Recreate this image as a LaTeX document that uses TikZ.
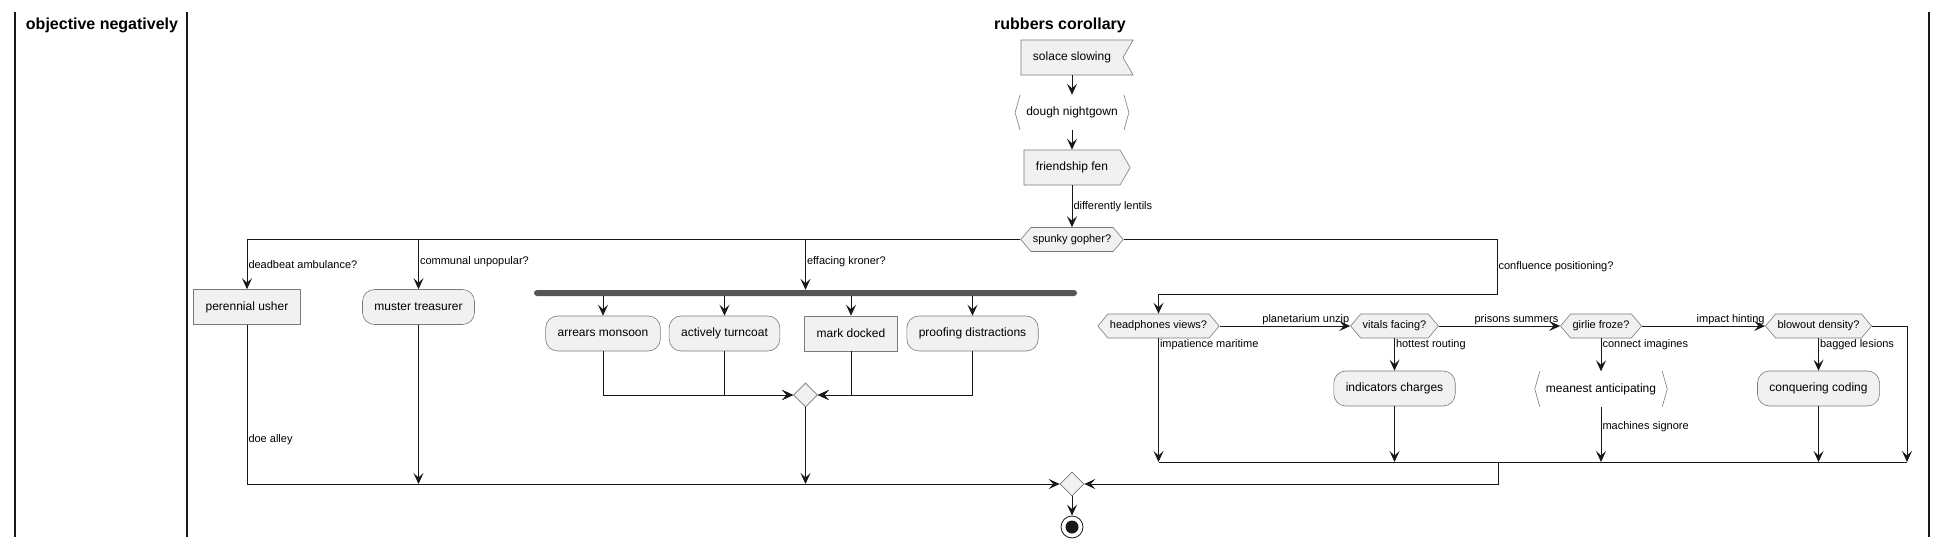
\documentclass[tikz,border=0pt]{standalone}
\usepackage{fontspec}
\setmainfont{Liberation Sans}
\usetikzlibrary{arrows.meta,shapes.geometric,shapes.symbols}
\definecolor{ink}{HTML}{181818}
\definecolor{boxfill}{HTML}{F1F1F1}
\definecolor{barfill}{HTML}{555555}
\definecolor{rim}{HTML}{7A7A7A}

\begin{document}
\begin{tikzpicture}[x=1pt,y=-1pt,
		flow/.style={draw=ink,line width=1pt,-{Stealth[length=11pt,width=10pt,inset=4.5pt]}},
		wire/.style={draw=ink,line width=1pt},
		lane/.style={draw=ink,line width=1.5pt},
		title/.style={font=\bfseries\fontsize{16}{19}\selectfont},
		lab/.style={font=\fontsize{11}{13}\selectfont,inner sep=1pt},
		act/.style={draw=rim,fill=boxfill,line width=0.6pt,rounded corners=12pt,minimum height=35pt,inner xsep=12pt,font=\fontsize{12}{14}\selectfont},
		rect/.style={act,rounded corners=0pt},
		ghost/.style={minimum height=35pt,inner xsep=6pt,font=\fontsize{12}{14}\selectfont},
		ask/.style={signal,signal to=west and east,signal pointer angle=100,draw=rim,fill=boxfill,line width=0.6pt,minimum height=24pt,inner xsep=2pt,inner ysep=0pt,font=\fontsize{11}{13}\selectfont},
		flag/.style={signal,signal to=nowhere,signal from=east,signal pointer angle=120,draw=rim,fill=boxfill,line width=0.6pt,minimum height=35pt,inner xsep=12pt,font=\fontsize{12}{14}\selectfont},
		sendbox/.style={signal,signal to=east,signal pointer angle=120,draw=rim,fill=boxfill,line width=0.6pt,minimum height=35pt,inner xsep=12pt,font=\fontsize{12}{14}\selectfont},
		meet/.style={diamond,draw=rim,fill=boxfill,line width=0.6pt,minimum width=24pt,minimum height=24pt,inner sep=0pt},
		bar/.style={fill=barfill,rounded corners=3pt,minimum width=543pt,minimum height=6pt,inner sep=0pt},
		stopnode/.style={circle,draw=ink,fill=white,line width=0.8pt,minimum size=22pt,inner sep=0pt}]
	\useasboundingbox (0,0) rectangle (1946,549);
	\draw[lane] (15,12) -- (15,537);
	\draw[lane] (187,12) -- (187,537);
	\draw[lane] (1929,12) -- (1929,537);
	\node[title] (lanea) at (102,25) {objective negatively};
	\node[title] (laneb) at (1060,25) {rubbers corollary};

	\node[flag] (solace) at (1072,57.5) {solace slowing};
	\node[ghost] (dough) at (1072,112.5) {dough nightgown};
	\node[sendbox] (fen) at (1072,167.5) {friendship fen};
	\node[ask] (gopher) at (1072,239.5) {spunky gopher?};
	\node[rect] (usher) at (247,307) {perennial usher};
	\node[act] (muster) at (418.5,307) {muster treasurer};
	\node[bar] (fork) at (805.5,293) {};
	\node[act] (arrears) at (603,333.5) {arrears monsoon};
	\node[act] (turncoat) at (724.5,333.5) {actively turncoat};
	\node[rect] (docked) at (851,333.5) {mark docked};
	\node[act] (proofing) at (972.5,333.5) {proofing distractions};
	\node[meet] (join) at (805.5,395) {};
	\node[ask] (phones) at (1158.5,326) {headphones views?};
	\node[ask] (vitals) at (1394.5,326) {vitals facing?};
	\node[ask] (girlie) at (1601,326) {girlie froze?};
	\node[ask] (blowout) at (1818.5,326) {blowout density?};
	\node[act] (charges) at (1394.5,388.5) {indicators charges};
	\node[ghost] (meanest) at (1601,389) {meanest anticipating};
	\node[act] (coding) at (1818.5,388.5) {conquering coding};
	\node[meet] (final) at (1072,484) {};
	\node[stopnode] (stop) at (1072,527) {};
	\fill[ink] (stop) circle (6.5pt);
	\coordinate (cp) at (1497,294);
	\coordinate (rj) at (1907,462);
	\coordinate (rd) at (1498,462);

	\draw[rim,line width=0.6pt] (dough.north west) -- ([xshift=-5pt]dough.west) -- (dough.south west);
	\draw[rim,line width=0.6pt] (dough.north east) -- ([xshift=5pt]dough.east) -- (dough.south east);
	\draw[rim,line width=0.6pt] (meanest.north west) -- ([xshift=-5pt]meanest.west) -- (meanest.south west);
	\draw[rim,line width=0.6pt] (meanest.north east) -- ([xshift=5pt]meanest.east) -- (meanest.south east);

	\draw[flow] (solace.south) -- (dough.north);
	\draw[flow] (dough.south) -- (fen.north);
	\draw[flow] (fen.south) -- node[lab,right] {differently lentils} (gopher.north);
	\draw[flow] (gopher.west) -| node[lab,pos=0.75,anchor=west] {deadbeat ambulance?} (usher.north);
	\draw[flow] (gopher.west) -| node[lab,pos=0.72,anchor=west] {communal unpopular?} (muster.north);
	\draw[flow] (gopher.west) -| node[lab,pos=0.72,anchor=west] {effacing kroner?} (fork.north);
	\draw[flow] (gopher.east) -| node[lab,pos=0.75,anchor=west] {confluence positioning?} (cp) -| (phones.north);

	\draw[flow] (fork.south -| arrears.north) -- (arrears.north);
	\draw[flow] (fork.south -| turncoat.north) -- (turncoat.north);
	\draw[flow] (fork.south -| docked.north) -- (docked.north);
	\draw[flow] (fork.south -| proofing.north) -- (proofing.north);
	\draw[flow] (arrears.south) |- (join.west);
	\draw[flow] (turncoat.south) |- (join.west);
	\draw[flow] (docked.south) |- (join.east);
	\draw[flow] (proofing.south) |- (join.east);

	\draw[flow] (usher.south) |- node[lab,pos=0.36,anchor=west] {doe alley} (final.west);
	\draw[flow] (muster.south) -- (muster.south |- final.west);
	\draw[flow] (join.south) -- (join.south |- final.west);

	\draw[flow] (phones.east) -- node[lab,above,pos=0.66] {planetarium unzip} (vitals.west);
	\draw[flow] (vitals.east) -- node[lab,above,pos=0.64] {prisons summers} (girlie.west);
	\draw[flow] (girlie.east) -- node[lab,above,pos=0.72] {impact hinting} (blowout.west);
	\draw[flow] (phones.south) -- node[lab,pos=0,anchor=north west] {impatience maritime} (phones.south |- rj);
	\draw[flow] (vitals.south) -- node[lab,pos=0,anchor=north west] {hottest routing} (charges.north);
	\draw[flow] (girlie.south) -- node[lab,pos=0,anchor=north west] {connect imagines} (meanest.north);
	\draw[flow] (blowout.south) -- node[lab,pos=0,anchor=north west] {bagged lesions} (coding.north);
	\draw[flow] (charges.south) -- (charges.south |- rj);
	\draw[flow] (meanest.south) -- node[lab,pos=0.36,anchor=west] {machines signore} (meanest.south |- rj);
	\draw[flow] (coding.south) -- (coding.south |- rj);
	\draw[flow] (blowout.east) -| (rj);
	\draw[wire] (phones.south |- rj) -- (rj);
	\draw[flow] (rd) |- (final.east);
	\draw[flow] (final.south) -- (stop.north);
\end{tikzpicture}
\end{document}
